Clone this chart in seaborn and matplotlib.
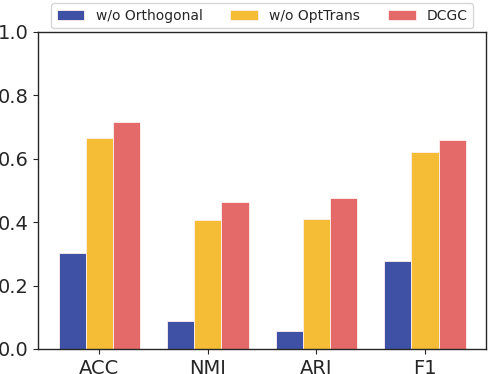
import matplotlib
matplotlib.use("Agg")
import matplotlib.pyplot as plt
import seaborn as sns
import pandas as pd

metrics = ["ACC", "NMI", "ARI", "F1"]
methods = ["w/o Orthogonal", "w/o OptTrans", "DCGC"]
wo_orthogonal = [0.302, 0.089, 0.056, 0.277]
wo_opttrans = [0.666, 0.407, 0.409, 0.622]
dcgc = [0.714, 0.463, 0.476, 0.658]
colors = ["#3F51A5", "#F5BD35", "#E46A6A"]

rows = []
for name, vals in zip(methods, [wo_orthogonal, wo_opttrans, dcgc]):
    for m, v in zip(metrics, vals):
        rows.append({"Metric": m, "Method": name, "Value": v})
df = pd.DataFrame(rows)

sns.set_style("ticks")
plt.rcParams['font.family'] = ['DejaVu Sans']
fig, ax = plt.subplots(figsize=(4.98, 3.74), dpi=100)
sns.barplot(data=df, x="Metric", y="Value", hue="Method", palette=colors,
            width=0.75, ax=ax, edgecolor="#FFF0F0", linewidth=0.6, saturation=1)
ax.set_xlim(-0.5625, 3.5625)
ax.set_ylim(0, 1.0)
ax.set_yticks([0, 0.2, 0.4, 0.6, 0.8, 1.0])
ax.set_xlabel("")
ax.set_ylabel("")
ax.tick_params(axis='both', labelsize=14)
for s in ax.spines.values():
    s.set_visible(True)
    s.set_linewidth(1.0)
ax.legend(loc="lower center", bbox_to_anchor=(0.5, 1.0), ncol=3, fontsize=10,
          frameon=True, handlelength=2.0, columnspacing=2.0, borderaxespad=0.25)
fig.subplots_adjust(left=0.077, right=0.976, top=0.915, bottom=0.067)
fig.savefig("out.png", dpi=100)
